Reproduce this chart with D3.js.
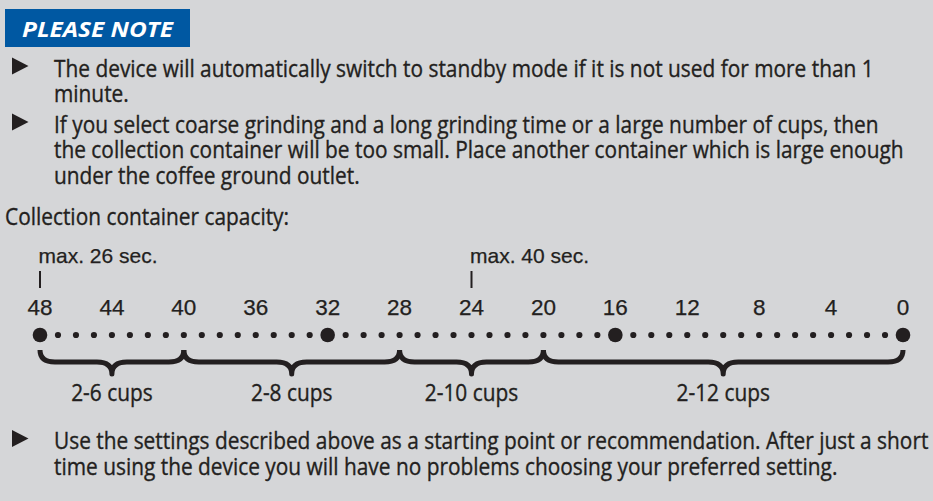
<!DOCTYPE html>
<html>
<head>
<meta charset="utf-8">
<script src="https://cdn.jsdelivr.net/npm/d3@7/dist/d3.min.js"></script>
<style>
  html, body { margin: 0; padding: 0; background: #d5d6d8; }
  svg { display: block; }
</style>
</head>
<body>
<div id="chart"></div>
<script>
// note texts, one entry per printed line
var noteTitle = "PLEASE NOTE";
var bullet1 = ["The device will automatically switch to standby mode if it is not used for more than 1",
               "minute."];
var bullet2 = ["If you select coarse grinding and a long grinding time or a large number of cups, then",
               "the collection container will be too small. Place another container which is large enough",
               "under the coffee ground outlet."];
var capacityTitle = "Collection container capacity:";
var bullet3 = ["Use the settings described above as a starting point or recommendation. After just a short",
               "time using the device you will have no problems choosing your preferred setting."];

// the seconds scale
var secondsDomain = [48, 0];
var labelValues = [48, 44, 40, 36, 32, 28, 24, 20, 16, 12, 8, 4, 0];
var majorDots = [48, 32, 16, 0];
var maxValues = [48, 24];
var maxLabels = ["max. 26 sec.", "max. 40 sec."];
var cupRanges = [[48, 40], [40, 28], [28, 20], [20, 0]];
var cupLabels = ["2-6 cups", "2-8 cups", "2-10 cups", "2-12 cups"];

var width = 933,
    height = 501,
    ink = "#231f20",
    bodyFont = "'Open Sans', 'Noto Sans', sans-serif",
    numFont = "'Liberation Sans', Arial, sans-serif";

var svg = d3.select("#chart").append("svg")
  .attr("width", width)
  .attr("height", height);

svg.append("rect")
  .attr("width", width).attr("height", height)
  .attr("fill", "#d5d6d8");

// blue "please note" box
svg.append("rect")
  .attr("x", 5).attr("y", 9)
  .attr("width", 185).attr("height", 38)
  .attr("fill", "#0058a2");

svg.append("text")
  .attr("x", 22).attr("y", 36.5)
  .style("font", "italic bold 21px " + bodyFont)
  .attr("fill", "white")
  .attr("textLength", 151)
  .attr("lengthAdjust", "spacingAndGlyphs")
  .text(noteTitle);

// body lines: [text, x, baseline]
var lines = [];
bullet1.forEach(function(t, i) { lines.push([t, 54, 76.5 + i * 25]); });
bullet2.forEach(function(t, i) { lines.push([t, 54, 132.5 + i * 25.5]); });
lines.push([capacityTitle, 5, 225]);
bullet3.forEach(function(t, i) { lines.push([t, 54, 449 + i * 26]); });

var bodyStyle = "23px " + bodyFont;

// measure the first line to find how much the humanist face must be narrowed
var probe = svg.append("text").style("font", bodyStyle).text(bullet1[0]);
var squeeze = 820 / probe.node().getComputedTextLength();
probe.remove();

function bodyLabel(sel) {
  sel.style("font", bodyStyle)
    .attr("fill", ink)
    .attr("stroke", ink)
    .attr("stroke-width", 0.35);
}

svg.append("g").selectAll("text")
  .data(lines)
  .enter().append("text")
  .attr("transform", function(d) {
    return "translate(" + d[1] + "," + d[2] + ") scale(" + squeeze + ",1)";
  })
  .call(bodyLabel)
  .text(function(d) { return d[0]; });

// bullet triangles
var bulletY = [76.5, 132.5, 449];
svg.selectAll("path.bullet")
  .data(bulletY)
  .enter().append("path")
  .attr("class", "bullet")
  .attr("d", function(y) {
    var c = y - 10.5;
    return "M12," + (c - 8.5) + "L28.5," + c + "L12," + (c + 8.5) + "Z";
  })
  .attr("fill", ink);

// scale
var x = d3.scaleLinear()
  .domain(secondsDomain)
  .range([40, 903]);

var dotY = 335;

svg.append("g").selectAll("circle")
  .data(x.ticks(48))
  .enter().append("circle")
  .attr("cx", function(d) { return x(d); })
  .attr("cy", dotY)
  .attr("r", function(d) { return majorDots.indexOf(d) >= 0 ? 7.3 : 3.1; })
  .attr("fill", ink);

svg.append("g").selectAll("text")
  .data(labelValues)
  .enter().append("text")
  .attr("x", function(d) { return x(d); })
  .attr("y", 315)
  .attr("text-anchor", "middle")
  .style("font", "22.5px " + numFont)
  .attr("fill", ink)
  .attr("stroke", ink)
  .attr("stroke-width", 0.25)
  .text(function(d) { return d; });

// max markers
var marks = svg.append("g").selectAll("g")
  .data(maxValues)
  .enter().append("g")
  .attr("transform", function(d) { return "translate(" + x(d) + ",0)"; });

marks.append("line")
  .attr("y1", 271).attr("y2", 288)
  .attr("stroke", ink)
  .attr("stroke-width", 2);

marks.append("text")
  .attr("x", -1.5).attr("y", 263)
  .style("font", "21px " + numFont)
  .attr("fill", ink)
  .attr("stroke", ink)
  .attr("stroke-width", 0.25)
  .text(function(d, i) { return maxLabels[i]; });

// braces
function brace(x1, x2) {
  var y0 = 350, y1 = 362, y2 = 374, r = 15, m = (x1 + x2) / 2;
  return "M" + x1 + "," + y0 +
    "Q" + x1 + "," + y1 + " " + (x1 + r) + "," + y1 +
    "L" + (m - r) + "," + y1 +
    "Q" + m + "," + y1 + " " + m + "," + y2 +
    "Q" + m + "," + y1 + " " + (m + r) + "," + y1 +
    "L" + (x2 - r) + "," + y1 +
    "Q" + x2 + "," + y1 + " " + x2 + "," + y0;
}

svg.append("g").selectAll("path")
  .data(cupRanges)
  .enter().append("path")
  .attr("d", function(d) { return brace(x(d[0]), x(d[1])); })
  .attr("fill", "none")
  .attr("stroke", ink)
  .attr("stroke-width", 5)
  .attr("stroke-linejoin", "round");

svg.append("g").selectAll("text")
  .data(cupRanges)
  .enter().append("text")
  .attr("transform", function(d) {
    return "translate(" + (x(d[0]) + x(d[1])) / 2 + ",401) scale(" + squeeze + ",1)";
  })
  .attr("text-anchor", "middle")
  .call(bodyLabel)
  .text(function(d, i) { return cupLabels[i]; });
</script>
</body>
</html>
